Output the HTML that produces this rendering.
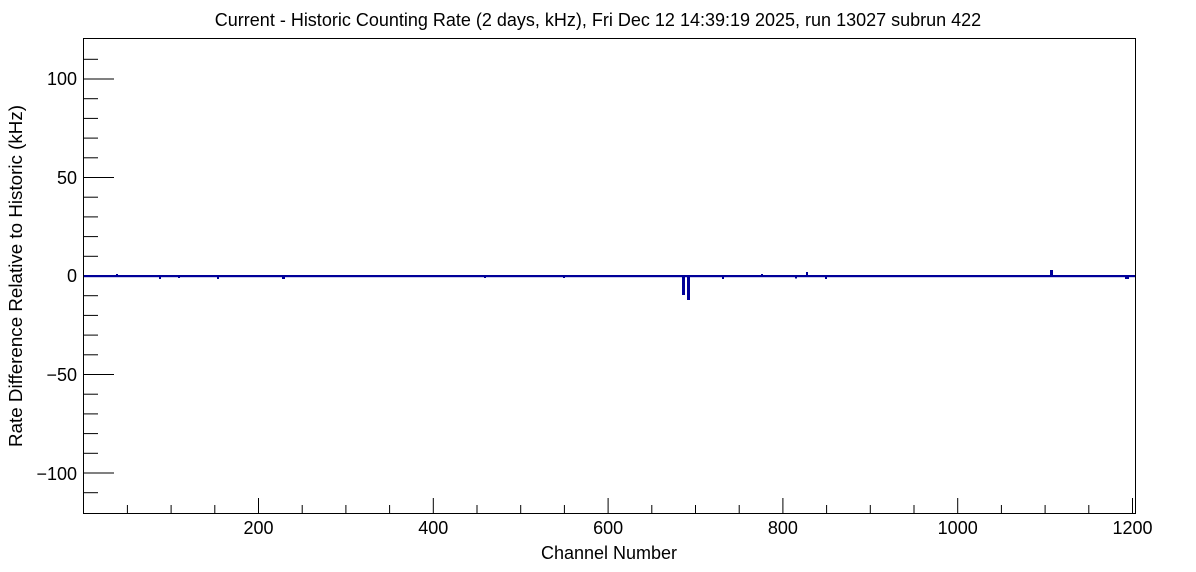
<!DOCTYPE html>
<html><head><style>body{margin:0;background:#fff}svg{display:block}text{font-family:"Liberation Sans",Arial,sans-serif}</style></head>
<body>
<svg width="1196" height="572" viewBox="0 0 1196 572" xmlns="http://www.w3.org/2000/svg">
<rect width="1196" height="572" fill="#fff"/>
<text x="598" y="26" font-size="18" text-anchor="middle">Current - Historic Counting Rate (2 days, kHz), Fri Dec 12 14:39:19 2025, run 13027 subrun 422</text>
<rect x="83.5" y="38.5" width="1052" height="475" fill="none" stroke="#000" stroke-width="1"/>
<g stroke="#000" stroke-width="1" id="yt"></g>
<g stroke="#000" stroke-width="1" id="xt"></g>
<g font-size="18" text-anchor="end">
<text x="77" y="85">100</text><text x="77" y="184">50</text><text x="77" y="282">0</text>
<text x="77" y="381">−50</text><text x="77" y="480">−100</text>
</g>
<g font-size="18" text-anchor="middle">
<text x="258.5" y="534">200</text><text x="433.3" y="534">400</text><text x="608.1" y="534">600</text>
<text x="782.9" y="534">800</text><text x="957.7" y="534">1000</text><text x="1132.5" y="534">1200</text>
</g>
<text x="609" y="559" font-size="18" text-anchor="middle">Channel Number</text>
<text transform="translate(22,276) rotate(-90)" font-size="18.8" text-anchor="middle">Rate Difference Relative to Historic (kHz)</text>
<g fill="#000099">
<rect x="84" y="275" width="1051" height="2.2"/>
<rect x="682" y="276" width="3" height="19"/>
<rect x="687" y="276" width="3" height="24"/>
<rect x="159" y="276" width="2" height="3"/><rect x="217" y="276" width="2" height="3"/>
<rect x="282" y="276" width="3" height="3"/><rect x="722" y="276" width="2" height="3"/>
<rect x="795" y="276" width="2" height="2.5"/><rect x="825" y="276" width="2" height="3"/>
<rect x="806" y="272" width="2" height="4"/><rect x="761" y="274" width="2" height="2"/>
<rect x="1050" y="270" width="3" height="6"/><rect x="1125" y="276" width="4" height="3"/>
<rect x="116" y="274" width="2" height="2"/><rect x="178" y="276" width="2" height="2"/>
<rect x="484" y="276" width="2" height="2"/><rect x="563" y="276" width="2" height="2"/>
</g>
<script>
var ns="http://www.w3.org/2000/svg",yt=document.getElementById('yt'),xt=document.getElementById('xt');
function ln(g,a,b,c,d){var l=document.createElementNS(ns,'line');l.setAttribute('x1',a);l.setAttribute('y1',b);l.setAttribute('x2',c);l.setAttribute('y2',d);g.appendChild(l);}
for(var v=-110;v<=110;v+=10){var y=276-v*1.97;ln(yt,83.5,y,v%50==0?114:98,y);}
for(var v=50;v<=1200;v+=50){var x=258.5+(v-200)*0.874;ln(xt,x,513.5,x,v%200==0?498:505);}
</script>
</svg>
</body></html>
